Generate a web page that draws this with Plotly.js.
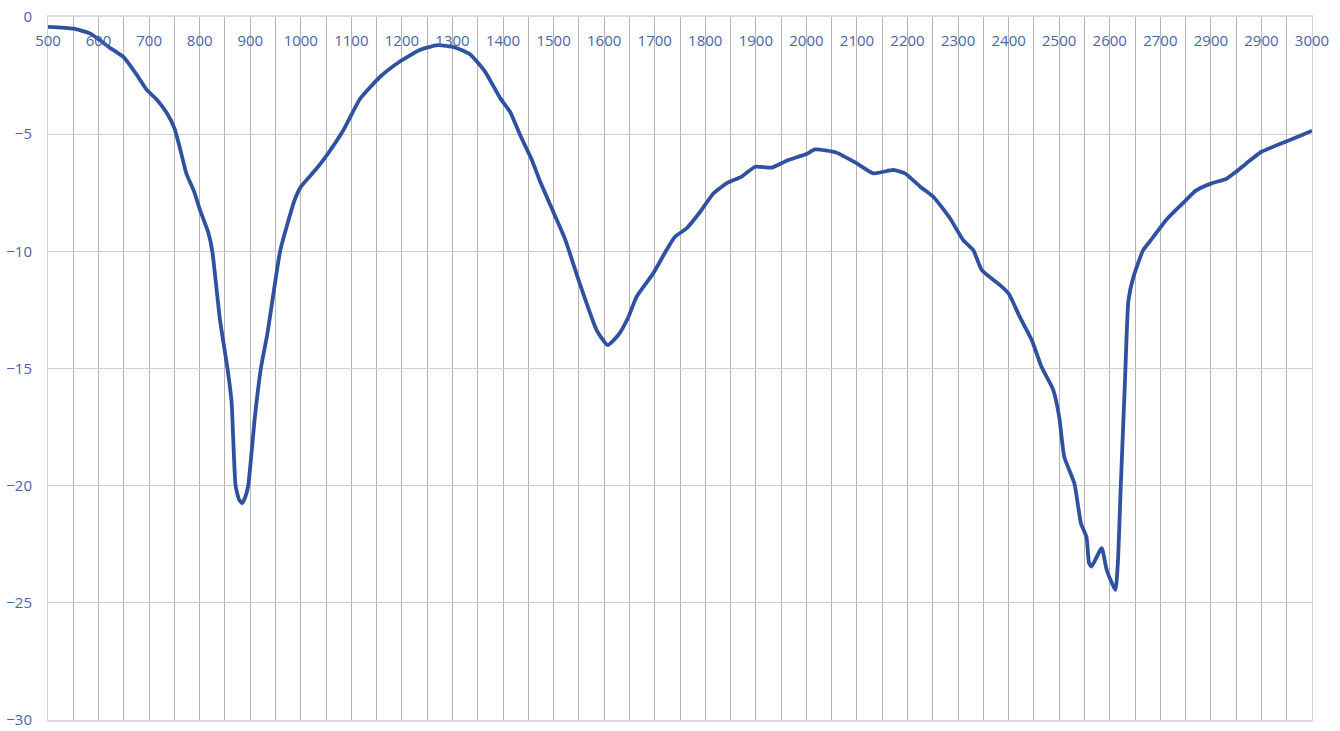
<!DOCTYPE html>
<html>
<head>
<meta charset="utf-8">
<script src="https://cdn.plot.ly/plotly-3.0.1.min.js"></script>
<style>html,body{margin:0;padding:0;background:#fff;}#chart{width:1340px;height:731px;}</style>
</head>
<body>
<div id="chart"></div>
<script>
const wavelength = [500,550,583,600,623,650,675,695,715,735,750,761,774,789,800,817,825,840,855,863,871,878,884,890,896,909,921,934,959,972,988,1000,1030,1048,1085,1117,1157,1196,1236,1271,1305,1335,1365,1394,1414,1434,1457,1473,1500,1523,1549,1565,1585,1607,1628,1648,1664,1697,1720,1740,1763,1790,1816,1842,1872,1899,1931,1961,2000,2017,2060,2099,2132,2172,2195,2225,2251,2284,2310,2330,2347,2383,2400,2422,2446,2465,2488,2500,2510,2530,2543,2554,2559,2564,2584,2594,2611,2616,2622,2630,2637,2647,2666,2682,2712,2742,2771,2801,2831,2850,2870,2900,2939,2979,3000];
const response = [-0.42,-0.5,-0.7,-0.95,-1.32,-1.72,-2.45,-3.1,-3.52,-4.1,-4.74,-5.6,-6.7,-7.45,-8.2,-9.2,-10.0,-12.9,-15.0,-16.4,-20.0,-20.6,-20.75,-20.5,-20.0,-17.1,-15.0,-13.5,-10.0,-8.95,-7.8,-7.25,-6.5,-6.0,-4.8,-3.5,-2.55,-1.9,-1.4,-1.2,-1.3,-1.6,-2.35,-3.45,-4.05,-5.05,-6.1,-7.0,-8.35,-9.5,-11.2,-12.2,-13.36,-14.0,-13.57,-12.8,-11.94,-10.94,-10.07,-9.38,-9.02,-8.31,-7.53,-7.1,-6.81,-6.39,-6.43,-6.13,-5.85,-5.65,-5.79,-6.24,-6.67,-6.53,-6.67,-7.24,-7.67,-8.59,-9.52,-9.95,-10.8,-11.44,-11.8,-12.8,-13.8,-14.93,-15.9,-17.06,-18.77,-19.9,-21.6,-22.2,-23.3,-23.45,-22.67,-23.6,-24.45,-23.3,-19.9,-15.6,-12.08,-11.08,-9.95,-9.5,-8.65,-8.0,-7.4,-7.1,-6.9,-6.6,-6.25,-5.75,-5.4,-5.05,-4.85];
const xTickVals = [500,550,600,650,700,750,800,850,900,950,1000,1050,1100,1150,1200,1250,1300,1350,1400,1450,1500,1550,1600,1650,1700,1750,1800,1850,1900,1950,2000,2050,2100,2150,2200,2250,2300,2350,2400,2450,2500,2550,2600,2650,2700,2750,2800,2850,2900,2950,3000];
const xTickText = ["500","","600","","700","","800","","900","","1000","","1100","","1200","","1300","","1400","","1500","","1600","","1700","","1800","","1900","","2000","","2100","","2200","","2300","","2400","","2500","","2600","","2700","","2900","","2900","","3000"];
const yTickVals = [0,-5,-10,-15,-20,-25,-30];

const textColor = '#4a64a8';
Plotly.newPlot('chart', [{
  x: wavelength, y: response, type: 'scatter', mode: 'lines',
  line: {color: '#2f52a0', width: 3.8, shape: 'spline', smoothing: 0.5},
  hoverinfo: 'x+y'
}], {
  width: 1340, height: 731,
  margin: {l: 48, r: 28, t: 17, b: 11},
  paper_bgcolor: '#ffffff', plot_bgcolor: '#ffffff',
  showlegend: false,
  font: {family: 'Open Sans, sans-serif', size: 15, color: textColor},
  xaxis: {
    side: 'top', range: [500, 3000], tickmode: 'array',
    tickvals: xTickVals, ticktext: xTickText,
    ticklabelposition: 'inside', ticklabeloverflow: 'allow', ticks: '', ticklabelstandoff: 18,
    showgrid: true, gridcolor: '#b4b4b4', gridwidth: 1,
    showline: true, linecolor: '#d9d9d9', linewidth: 2, mirror: true,
    zeroline: false, fixedrange: true,
    tickfont: {family: 'Open Sans, sans-serif', size: 15, color: textColor}
  },
  yaxis: {
    range: [-30, 0], tickmode: 'array', tickvals: yTickVals,
    ticks: '', ticklabelstandoff: 12, ticklabeloverflow: 'allow',
    showgrid: true, gridcolor: '#cfcfcf', gridwidth: 1,
    showline: true, linecolor: '#d0d0d0', linewidth: 1, mirror: true,
    zeroline: false, fixedrange: true,
    tickfont: {family: 'Open Sans, sans-serif', size: 15, color: textColor}
  }
}, {displayModeBar: false, staticPlot: true});
</script>
</body>
</html>
